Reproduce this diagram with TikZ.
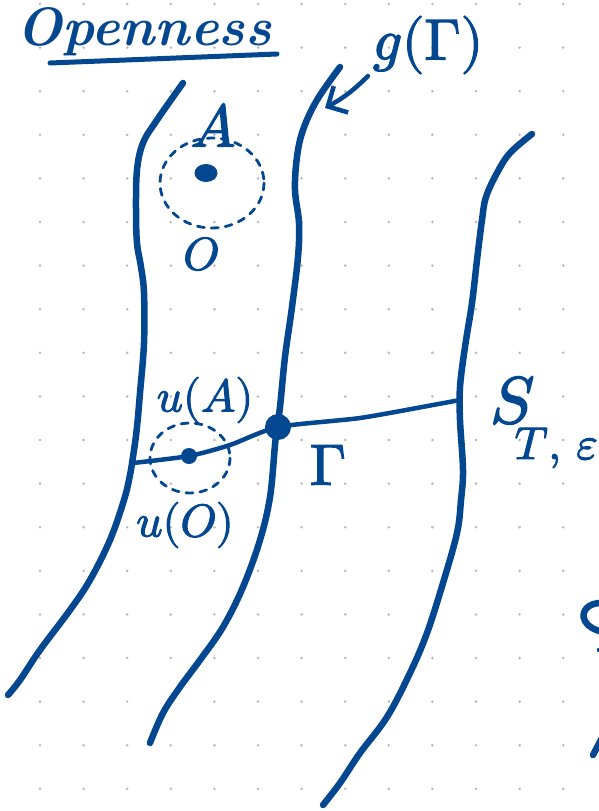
\documentclass[tikz,border=0pt]{standalone}
\usepackage{unicode-math}
\setmathfont{Latin Modern Math}
\setmathfont{Latin Modern Math}[version=ink,FakeBold=2.2]
\usetikzlibrary{arrows.meta,shapes.geometric}
\definecolor{ink}{RGB}{4,71,145}
\definecolor{griddot}{RGB}{185,185,185}
\begin{document}
\begin{tikzpicture}[x=1pt,y=-1pt,
  curve/.style={ink,line width=6.5pt,line cap=round,line join=round},
  gline/.style={ink,line width=4.5pt,line cap=round,line join=round},
  dashring/.style={ink,line width=2.8pt,dash pattern=on 7pt off 7pt,line cap=round},
  lab/.style={ink,inner sep=0pt},
  bigdot/.style={circle,fill=ink,inner sep=0pt}]
\useasboundingbox (0,0) rectangle (599,811);
\fill[white] (0,0) rectangle (599,811);
\foreach \i in {0,...,12}{\foreach \j in {0,...,18}{\fill[griddot] ({40+43.6*\i},{4+43.6*\j}) circle (1.4);}}
% title
\node[lab,anchor=base west,font=\fontsize{54}{54}\selectfont\bfseries\itshape] (title) at (16,45) {Openness};
\coordinate (ulA) at (50,63);
\coordinate (ulB) at (277,54);
\draw[gline,line width=5pt] (ulA) -- (ulB);
% curves
\draw[curve] plot[smooth,tension=0.6] coordinates {(183,83) (157,120) (143,143) (137,170) (136,210) (137,243) (141,267) (144,293) (144,343) (140,393) (137,427) (134,450) (130,475) (124,500) (110,540) (90,580) (70,610) (40,650) (20,680) (8,695)};
\draw[curve] plot[smooth,tension=0.6] coordinates {(340,67) (317,100) (303,130) (297,157) (295,190) (299,223) (298,257) (292,307) (285,357) (280,407) (277,427) (275,445) (270,497) (260,540) (243,587) (223,627) (200,660) (180,687) (163,713) (150,743)};
\draw[curve] plot[smooth,tension=0.6] coordinates {(532,134) (510,153) (497,173) (486,197) (482,220) (477,260) (472,303) (465,347) (460,387) (460,420) (463,470) (461,500) (457,533) (443,583) (427,633) (410,673) (387,717) (360,753) (340,783) (323,805)};
% Gamma line
\node[bigdot,minimum size=26pt] (G) at (278,427) {};
\node[bigdot,minimum size=16pt] (uA) at (189,456) {};
\coordinate (gl0) at (133,463);
\coordinate (gl1) at (460,400);
\draw[gline] plot[smooth,tension=0.4] coordinates {(gl0) (uA) (230,445) (G) (360,418) (433,405) (gl1)};
% A region
\node[ellipse,fill=ink,inner sep=0pt,minimum width=23pt,minimum height=18pt] (Adot) at (206,173) {};
\draw[dashring] (212,183) ellipse [x radius=52, y radius=45];
\draw[dashring] (190,458) ellipse [x radius=40, y radius=35];
% labels
\node[lab,font=\fontsize{60}{60}\selectfont\mathversion{ink}] (A) at (213,125) {$A$};
\node[lab,font=\fontsize{46}{46}\selectfont\mathversion{ink}] (O) at (201,254) {$O$};
\node[lab,font=\fontsize{46}{46}\selectfont\mathversion{ink}] (uAl) at (205,400) {$u(A)$};
\node[lab,font=\fontsize{46}{46}\selectfont\mathversion{ink}] (uOl) at (185,525) {$u(O)$};
\node[lab,font=\fontsize{58}{58}\selectfont\mathversion{ink}] (Gam) at (328,465) {$\Gamma$};
\node[lab,font=\fontsize{58}{58}\selectfont\mathversion{ink}] (gG) at (428,45) {$g(\Gamma)$};
\node[lab,anchor=base west,font=\fontsize{66}{66}\selectfont\mathversion{ink}] (S) at (490,423) {$S$\kern-20pt\raisebox{-36pt}{\fontsize{46}{46}\selectfont\mathversion{ink}$T,\,\varepsilon$}};
% arrow
\coordinate (gtail) at (368,76);
\coordinate (gtip) at (325,108);
\draw[ink,line width=4.5pt,line cap=round,-{Straight Barb[length=15pt,width=30pt]}] (gtail) to[bend left=8] (gtip);
% fragment at right edge
\draw[curve] (603,603) .. controls (588,602) and (580,612) .. (585,621) .. controls (588,627) and (595,630) .. (603,632);
\fill[ink] (599,650) circle (2.2);
\draw[curve] (593,755) -- (603,736);
\end{tikzpicture}
\end{document}
